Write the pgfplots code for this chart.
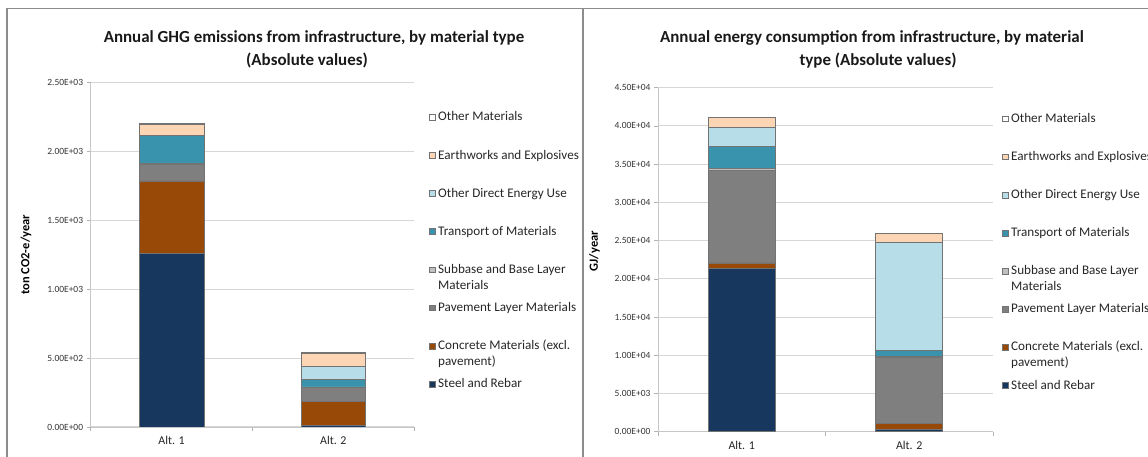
\documentclass[border=0pt]{standalone}
\usepackage{pgfplots}
\usepackage{pgfplotstable}
\pgfplotsset{compat=1.18}
\usepackage{fontspec}
\setmainfont{Carlito}

\definecolor{cSteel}{HTML}{17375E}
\definecolor{cConcrete}{HTML}{984807}
\definecolor{cPavement}{HTML}{7F7F7F}
\definecolor{cSubbase}{HTML}{C0C0C0}
\definecolor{cTransport}{HTML}{3A93AC}
\definecolor{cDirect}{HTML}{B7DEE8}
\definecolor{cEarth}{HTML}{FCD5B5}
\definecolor{cOther}{HTML}{FFFFFF}
\definecolor{cFrame}{HTML}{8C8C8C}

% GHG emissions, ton CO2-e/year
\pgfplotstableread{
alt steel concrete pavement subbase transport direct earth other
0   1260  528      120      5       203       0      84    4
1   12    174      100      6       56        94     94    4
}\ghgtable

% Energy consumption, GJ/year
\pgfplotstableread{
alt steel concrete pavement subbase transport direct earth other
0   21400 700      12100    250     2900      2420   1300  60
1   300   800      8620     100     780       14130  1220  50
}\energytable

% legend texts take no height, so every row has the same pitch
\newcommand{\lgone}[1]{\smash{#1}}
\newcommand{\lgtwo}[2]{\smash{\parbox[t]{200bp}{#1\\#2}}}

\pgfplotsset{
  matstack/.style={
    scale only axis,
    ybar stacked, bar width=0.4,
    xmin=-0.5, xmax=1.5, ymin=0,
    enlarge x limits=false, enlarge y limits=false,
    scaled y ticks=false,
    axis x line*=bottom, axis y line*=left,
    axis line style={-, draw=black!22, line width=0.8bp},
    xtick={-0.5,0.5,1.5}, xticklabels={,,},
    extra x ticks={0,1}, extra x tick labels={Alt. 1,Alt. 2},
    extra x tick style={major tick length=0pt, grid=none},
    tick align=outside, major tick length=4bp,
    tick style={draw=black!30, line width=0.6bp},
    ymajorgrids, grid style={draw=black!16, line width=1bp},
    yticklabel style={font=\fontsize{9.5}{11}\selectfont, text=black!80},
    xticklabel style={font=\fontsize{12}{14}\selectfont, text=black!85, yshift=-6bp},
    ylabel style={font=\bfseries\fontsize{12.5}{14}\selectfont},
    every axis plot/.append style={draw=black!55, line width=0.5bp},
    reverse legend,
    legend cell align=left,
    legend style={draw=none, fill=none, inner sep=0pt, row sep=22.1bp, column sep=1.8bp,
      nodes={inner sep=1bp},
      font=\fontsize{13.2}{15.7}\selectfont, text=black!85},
    legend image code/.code={%
      \path[draw=none,fill=none] (0bp,-8bp) rectangle (5.5bp,8bp);
      \draw[##1,line width=0.4bp] (0bp,1.6bp) rectangle (5.8bp,7.4bp);},
  }
}

\begin{document}
\begin{tikzpicture}
\path[use as bounding box] (0,0) rectangle (1148bp,457bp);

% panel frames
\draw[cFrame, line width=1.4bp] (7bp,0) -- (7bp,448.5bp) -- (1148bp,448.5bp);
\draw[cFrame, line width=1.4bp] (583bp,0) -- (583bp,448.5bp);

% GHG emissions
\begin{axis}[matstack,
  at={(90.6bp,30bp)}, anchor=south west,
  width=323.7bp, height=344.3bp,
  ymax=2500,
  ytick={0,500,1000,1500,2000,2500},
  yticklabels={0.00E+00,5.00E+02,1.00E+03,1.50E+03,2.00E+03,2.50E+03},
  ylabel={ton CO2-e/year},
  ylabel style={at={(axis description cs:-0.2,0.5)}, anchor=center},
  legend style={at={(axis description cs:1.0454,0.9105)}, anchor=north west},
]
\addplot[fill=cSteel] table[x=alt,y=steel]{\ghgtable};
\addlegendentry{\lgone{Steel and Rebar}}
\addplot[fill=cConcrete] table[x=alt,y=concrete]{\ghgtable};
\addlegendentry{\lgtwo{Concrete Materials (excl.}{pavement)}}
\addplot[fill=cPavement] table[x=alt,y=pavement]{\ghgtable};
\addlegendentry{\lgone{Pavement Layer Materials}}
\addplot[fill=cSubbase] table[x=alt,y=subbase]{\ghgtable};
\addlegendentry{\lgtwo{Subbase and Base Layer}{Materials}}
\addplot[fill=cTransport] table[x=alt,y=transport]{\ghgtable};
\addlegendentry{\lgone{Transport of Materials}}
\addplot[fill=cDirect] table[x=alt,y=direct]{\ghgtable};
\addlegendentry{\lgone{Other Direct Energy Use}}
\addplot[fill=cEarth] table[x=alt,y=earth]{\ghgtable};
\addlegendentry{\lgone{Earthworks and Explosives}}
\addplot[fill=cOther] table[x=alt,y=other]{\ghgtable};
\addlegendentry{\lgone{Other Materials}}
\end{axis}

% Energy consumption
\begin{axis}[matstack,
  at={(657.9bp,25.3bp)}, anchor=south west,
  width=335.1bp, height=344bp,
  ymax=45000,
  ytick={0,5000,10000,15000,20000,25000,30000,35000,40000,45000},
  yticklabels={0.00E+00,5.00E+03,1.00E+04,1.50E+04,2.00E+04,2.50E+04,3.00E+04,3.50E+04,4.00E+04,4.50E+04},
  ylabel={GJ/year},
  ylabel style={at={(axis description cs:-0.189,0.525)}, anchor=center},
  legend style={at={(axis description cs:1.0269,0.9209)}, anchor=north west},
]
\addplot[fill=cSteel] table[x=alt,y=steel]{\energytable};
\addlegendentry{\lgone{Steel and Rebar}}
\addplot[fill=cConcrete] table[x=alt,y=concrete]{\energytable};
\addlegendentry{\lgtwo{Concrete Materials (excl.}{pavement)}}
\addplot[fill=cPavement] table[x=alt,y=pavement]{\energytable};
\addlegendentry{\lgone{Pavement Layer Materials}}
\addplot[fill=cSubbase] table[x=alt,y=subbase]{\energytable};
\addlegendentry{\lgtwo{Subbase and Base Layer}{Materials}}
\addplot[fill=cTransport] table[x=alt,y=transport]{\energytable};
\addlegendentry{\lgone{Transport of Materials}}
\addplot[fill=cDirect] table[x=alt,y=direct]{\energytable};
\addlegendentry{\lgone{Other Direct Energy Use}}
\addplot[fill=cEarth] table[x=alt,y=earth]{\energytable};
\addlegendentry{\lgone{Earthworks and Explosives}}
\addplot[fill=cOther] table[x=alt,y=other]{\energytable};
\addlegendentry{\lgone{Other Materials}}
\end{axis}

% chart titles
\begin{scope}[every node/.style={font=\bfseries\fontsize{17}{20}\selectfont, text=black!90, anchor=base}]
\node at (314bp,414.5bp) {Annual GHG emissions from infrastructure, by material type};
\node at (307bp,391.5bp) {(Absolute values)};
\node at (872bp,414.5bp) {Annual energy consumption from infrastructure, by material};
\node at (878bp,391.5bp) {type (Absolute values)};
\end{scope}
\end{tikzpicture}
\end{document}
